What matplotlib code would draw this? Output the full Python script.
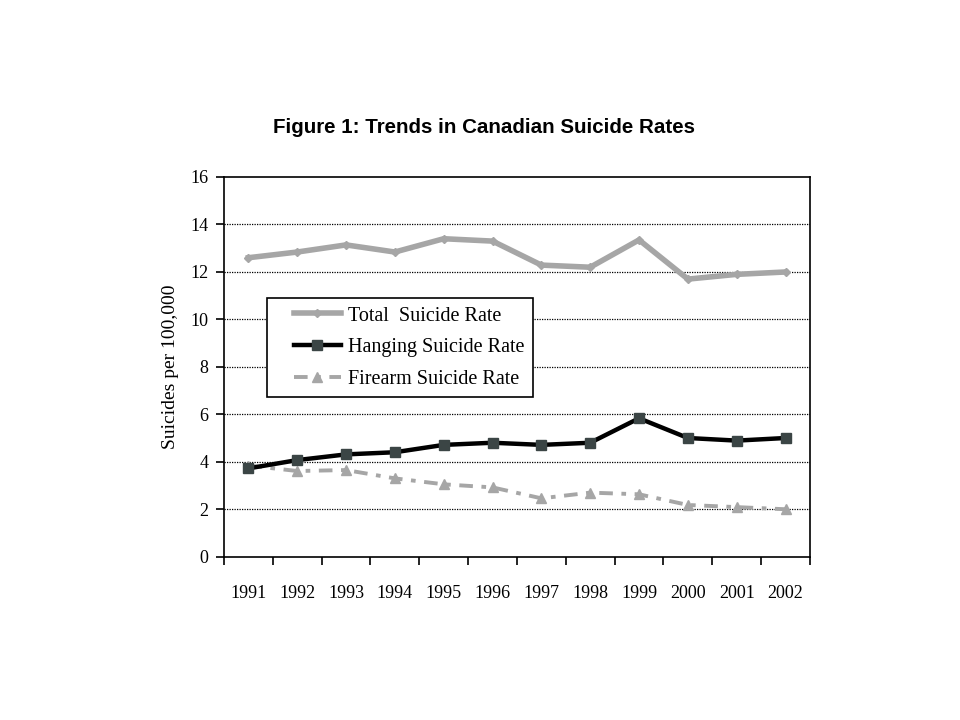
"""Figure 1: Trends in Canadian Suicide Rates."""

import matplotlib
matplotlib.use("Agg")
import matplotlib.pyplot as plt
from matplotlib.legend_handler import HandlerLine2D

years = ["1991", "1992", "1993", "1994", "1995", "1996",
         "1997", "1998", "1999", "2000", "2001", "2002"]
total_rate = [12.6, 12.84, 13.14, 12.84, 13.4, 13.3, 12.29, 12.2, 13.35, 11.7, 11.9, 12.0]
hanging_rate = [3.73, 4.08, 4.32, 4.41, 4.72, 4.81, 4.72, 4.81, 5.84, 5.01, 4.9, 5.01]
firearm_rate = [3.85, 3.62, 3.66, 3.31, 3.06, 2.93, 2.47, 2.71, 2.64, 2.19, 2.1, 2.01]
y_ticks = [0, 2, 4, 6, 8, 10, 12, 14, 16]

SERIF = ["Liberation Serif", "DejaVu Serif"]

fig = plt.figure(figsize=(9.6, 7.2), dpi=100)
ax = fig.add_axes([0.2333, 0.2264, 0.6104, 0.5278])

x = list(range(len(years)))
ax.plot(x, total_rate, color="#a6a6a6", lw=4, marker="D", ms=4.5,
        mfc="#a6a6a6", mec="#a6a6a6", label="Total  Suicide Rate", zorder=3)
ax.plot(x, hanging_rate, color="black", lw=3.2, marker="s", ms=6.5,
        mfc="#3b4545", mec="#3b4545", label="Hanging Suicide Rate", zorder=4)
ax.plot(x, firearm_rate, color="#a6a6a6", lw=2.8, marker="^", ms=7,
        mfc="#a6a6a6", mec="#a6a6a6", dashes=(3.5, 2.2, 1.2, 2.2),
        label="Firearm Suicide Rate", zorder=3)

ax.set_xlim(-0.5, len(years) - 0.5)
ax.set_ylim(0, 16)
ax.set_yticks(y_ticks)
ax.set_xticks(x)
ax.set_xticklabels(years)
ax.set_xticks([i - 0.5 for i in range(len(years) + 1)], minor=True)
ax.tick_params(axis="x", which="major", length=0, pad=20)
ax.tick_params(axis="x", which="minor", length=6, width=1.2, direction="out")
ax.tick_params(axis="y", length=6, width=1.2, direction="out", pad=5)
for lab in ax.get_xticklabels() + ax.get_yticklabels():
    lab.set_family(SERIF)
    lab.set_fontsize(13)

for v in y_ticks[1:-1]:
    ax.axhline(v, color="black", lw=0.9, ls=(0, (1, 1)), zorder=1)
for sp in ax.spines.values():
    sp.set_linewidth(1.2)

ax.set_ylabel("Suicides per 100,000", family=SERIF, fontsize=14, labelpad=8)

# xpad pushes the legend line inward from the frame edge
inset = HandlerLine2D(xpad=0.9)
leg = ax.legend(loc="upper left", bbox_to_anchor=(0.0734, 0.6816), frameon=True,
                fancybox=False, edgecolor="black", framealpha=1,
                handlelength=3.25, labelspacing=0.62, borderpad=0.42,
                handletextpad=0.35, borderaxespad=0,
                handler_map={l: inset for l in ax.get_lines()},
                prop={"family": SERIF, "size": 14.5})
leg.get_frame().set_linewidth(1.2)
leg.set_zorder(5)

fig.text(0.504, 0.823, "Figure 1: Trends in Canadian Suicide Rates",
         ha="center", va="center", fontsize=14.8, fontweight="bold",
         family=["Liberation Sans", "DejaVu Sans"])

fig.savefig("out.png", dpi=100)
